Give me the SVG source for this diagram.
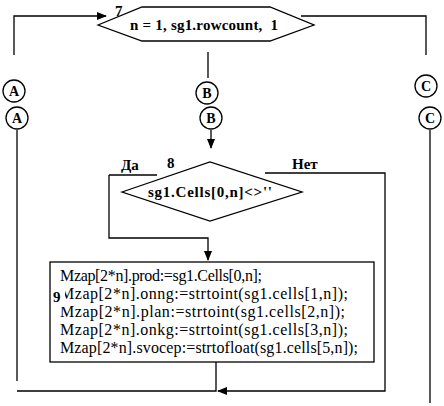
<svg xmlns="http://www.w3.org/2000/svg" width="444" height="406" viewBox="0 0 444 406">
<style>
.ln{fill:none;stroke:#000;stroke-width:1.3}
.sh{fill:#fff;stroke:#000;stroke-width:1.3}
.b{font-family:"Liberation Serif",serif;font-weight:bold;font-size:15px;fill:#000;white-space:pre}
.t{font-family:"Liberation Serif",serif;font-size:16px;fill:#000}
.c{font-family:"Liberation Serif",serif;font-weight:bold;font-size:14px;fill:#000;text-anchor:middle}
</style>
<defs>
<marker id="ar" markerWidth="10" markerHeight="8" refX="9" refY="4" orient="auto" markerUnits="userSpaceOnUse">
<path d="M0,0 L10,4 L0,8 z" fill="#000"/>
</marker>
</defs>
<g id="connectors">
<polyline class="ln" points="14,55 14,16 106,16" marker-end="url(#ar)"/>
<polyline class="ln" points="301,16 426,16 426,55"/>
<line class="ln" x1="208" y1="52" x2="208" y2="78"/>
<line class="ln" x1="211" y1="130" x2="211" y2="148" marker-end="url(#ar)"/>
<line class="ln" x1="17" y1="130" x2="17" y2="381"/>
<line class="ln" x1="430" y1="130" x2="430" y2="403"/>
<line class="ln" x1="109" y1="175" x2="157" y2="175"/>
<polyline class="ln" points="109,175 109,238 208,238 208,260" marker-end="url(#ar)"/>
<polyline class="ln" points="265,173 385,173 385,391 218,391" marker-end="url(#ar)"/>
<polyline class="ln" points="216,362 216,391 17,391"/>
</g>
<g id="node7">
<polygon class="sh" points="98,25 142,7 270,7 314,25 270,41 142,41"/>
<text class="b" x="130" y="30" textLength="148" xml:space="preserve">n = 1, sg1.rowcount,  1</text>
<text class="b" x="115" y="16">7</text>
</g>
<g id="connA1"><circle class="sh" cx="14" cy="91" r="11"/><text class="c" x="14" y="96">A</text></g>
<g id="connA2"><circle class="sh" cx="17" cy="118" r="11"/><text class="c" x="17" y="123">A</text></g>
<g id="connB1"><circle class="sh" cx="207" cy="93" r="11"/><text class="c" x="207" y="98">B</text></g>
<g id="connB2"><circle class="sh" cx="211" cy="118" r="11"/><text class="c" x="211" y="123">B</text></g>
<g id="connC1"><circle class="sh" cx="426" cy="86" r="11"/><text class="c" x="426" y="91">C</text></g>
<g id="connC2"><circle class="sh" cx="430" cy="118" r="11"/><text class="c" x="430" y="123">C</text></g>
<g id="node8">
<polygon class="sh" points="122,192 210,162 302,192 210,221"/>
<text class="b" x="148" y="197" textLength="124">sg1.Cells[0,n]&lt;&gt;''</text>
<text class="b" x="167" y="168">8</text>
<text class="b" x="121" y="170">Да</text>
<text class="b" x="292" y="169">Нет</text>
</g>
<g id="node9">
<rect class="sh" x="50" y="262" width="324" height="100"/>
<text class="t" x="60" y="281" textLength="202">Mzap[2*n].prod:=sg1.Cells[0,n];</text>
<text class="t" x="60" y="299" textLength="288">Mzap[2*n].onng:=strtoint(sg1.cells[1,n]);</text>
<text class="t" x="60" y="317" textLength="285">Mzap[2*n].plan:=strtoint(sg1.cells[2,n]);</text>
<text class="t" x="60" y="335" textLength="288">Mzap[2*n].onkg:=strtoint(sg1.cells[3,n]);</text>
<text class="t" x="60" y="353" textLength="298">Mzap[2*n].svocep:=strtofloat(sg1.cells[5,n]);</text>
<rect x="52" y="285" width="13" height="22" fill="#fff"/>
<text class="b" x="53" y="302">9</text>
</g>
</svg>
